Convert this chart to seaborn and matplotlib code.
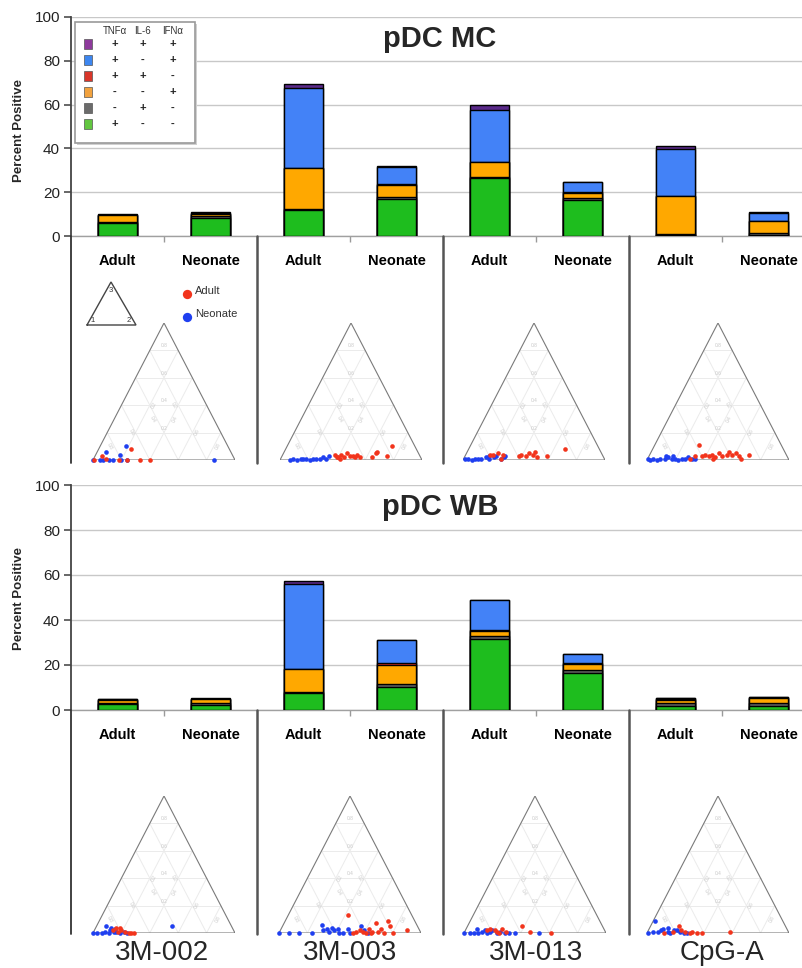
import numpy as np
import pandas as pd
import matplotlib
matplotlib.use('Agg')
import matplotlib.pyplot as plt
import seaborn as sns
from matplotlib.patches import Rectangle

# ---------------- data ----------------
groups = ['3M-002', '3M-003', '3M-013', 'CpG-A']
ages = ['Adult', 'Neonate']
layers = ['green', 'gray', 'orange', 'red', 'blue', 'purple']  # bottom -> top

# pDC MC  (percent positive, per cytokine combination)
mc_green = [6.0, 8.2, 12.0, 16.8, 26.5, 16.5, 0.5, 0.5]
mc_gray = [0.5, 1.0, 0.5, 1.0, 0.6, 0.7, 0.6, 0.7]
mc_orange = [3.0, 1.0, 18.5, 5.5, 6.5, 2.6, 17.3, 5.5]
mc_red = [0.0, 0.0, 0.0, 0.4, 0.2, 0.3, 0.0, 0.0]
mc_blue = [0.3, 0.3, 36.5, 8.0, 23.8, 4.4, 21.3, 3.9]
mc_purple = [0.4, 0.3, 2.0, 0.4, 2.0, 0.3, 1.5, 0.2]

# pDC WB
wb_green = [2.5, 2.2, 7.5, 10.1, 31.5, 16.3, 1.9, 1.8]
wb_gray = [0.8, 1.0, 0.4, 1.5, 1.2, 1.7, 1.2, 1.3]
wb_orange = [1.2, 1.5, 10.3, 8.5, 2.2, 2.4, 1.5, 2.2]
wb_red = [0.0, 0.0, 0.2, 0.6, 0.6, 0.3, 0.2, 0.0]
wb_blue = [0.3, 0.3, 37.6, 10.2, 13.4, 4.2, 0.5, 0.4]
wb_purple = [0.3, 0.3, 1.3, 0.2, 0.0, 0.0, 0.2, 0.2]

# legend: cytokine pattern per colour (TNFa, IL-6, IFNa), top row first
legend_keys = ['purple', 'blue', 'red', 'orange', 'gray', 'green']
legend_signs = [('+', '+', '+'), ('+', '-', '+'), ('+', '+', '-'),
                ('-', '-', '+'), ('-', '+', '-'), ('+', '-', '-')]
legend_header = ['TNFα', 'IL-6', 'IFNα']

# ternary points: (fraction 2, fraction 3); fraction 1 = remainder
mc_3m002_adult = [(0.05, 0.03), (0.23, 0.08), (0.24, 0.00), (0.33, 0.00), (0.40, 0.00),
                  (0.18, 0.00), (0.01, 0.00), (0.09, 0.01)]
mc_3m002_neonate = [(0.00, 0.00), (0.05, 0.00), (0.07, 0.00), (0.11, 0.00), (0.14, 0.00),
                    (0.20, 0.00), (0.24, 0.00), (0.06, 0.06), (0.17, 0.04), (0.18, 0.10),
                    (0.85, 0.00)]
mc_3m003_adult = [(0.37, 0.04), (0.39, 0.02), (0.40, 0.02), (0.42, 0.01), (0.41, 0.04),
                  (0.44, 0.02), (0.45, 0.05), (0.48, 0.03), (0.50, 0.03), (0.52, 0.02),
                  (0.52, 0.04), (0.55, 0.02), (0.64, 0.02), (0.65, 0.05), (0.65, 0.06),
                  (0.74, 0.03), (0.74, 0.10)]
mc_3m003_neonate = [(0.07, 0.00), (0.09, 0.01), (0.12, 0.00), (0.14, 0.01), (0.16, 0.01),
                    (0.18, 0.01), (0.21, 0.00), (0.23, 0.01), (0.25, 0.01), (0.28, 0.01),
                    (0.29, 0.02), (0.32, 0.01), (0.33, 0.03)]
mc_3m013_adult = [(0.17, 0.04), (0.19, 0.04), (0.22, 0.05), (0.26, 0.04), (0.26, 0.01),
                  (0.38, 0.03), (0.39, 0.04), (0.43, 0.03), (0.44, 0.05), (0.47, 0.04),
                  (0.48, 0.06), (0.51, 0.02), (0.58, 0.03), (0.68, 0.08)]
mc_3m013_neonate = [(0.01, 0.01), (0.03, 0.01), (0.06, 0.00), (0.08, 0.01), (0.10, 0.01),
                    (0.12, 0.01), (0.15, 0.02), (0.18, 0.01), (0.17, 0.03), (0.21, 0.02),
                    (0.22, 0.03), (0.26, 0.01), (0.28, 0.02), (0.28, 0.03)]
mc_cpga_adult = [(0.30, 0.01), (0.32, 0.03), (0.31, 0.11), (0.37, 0.03), (0.39, 0.04),
                 (0.42, 0.03), (0.44, 0.04), (0.46, 0.01), (0.47, 0.02), (0.48, 0.05),
                 (0.51, 0.03), (0.54, 0.04), (0.55, 0.06), (0.58, 0.04), (0.60, 0.05),
                 (0.63, 0.03), (0.66, 0.01), (0.70, 0.04)]
mc_cpga_neonate = [(0.00, 0.01), (0.02, 0.00), (0.04, 0.01), (0.07, 0.00), (0.09, 0.01),
                   (0.12, 0.01), (0.14, 0.02), (0.17, 0.01), (0.19, 0.01), (0.22, 0.00),
                   (0.24, 0.01), (0.26, 0.01), (0.28, 0.02), (0.31, 0.01), (0.33, 0.01),
                   (0.12, 0.03), (0.17, 0.03)]

wb_3m002_adult = [(0.13, 0.02), (0.14, 0.04), (0.17, 0.01), (0.17, 0.04), (0.19, 0.02),
                  (0.22, 0.01), (0.25, 0.00), (0.27, 0.00), (0.29, 0.00)]
wb_3m002_neonate = [(0.00, 0.00), (0.03, 0.00), (0.06, 0.00), (0.08, 0.01), (0.07, 0.05),
                    (0.11, 0.00), (0.11, 0.02), (0.11, 0.04), (0.14, 0.01), (0.14, 0.03),
                    (0.16, 0.01), (0.19, 0.00), (0.21, 0.01), (0.24, 0.00), (0.53, 0.05)]
wb_3m003_adult = [(0.42, 0.13), (0.52, 0.00), (0.54, 0.01), (0.56, 0.02), (0.59, 0.01),
                  (0.61, 0.00), (0.62, 0.03), (0.65, 0.00), (0.65, 0.01), (0.65, 0.07),
                  (0.69, 0.01), (0.70, 0.03), (0.74, 0.00), (0.72, 0.09), (0.76, 0.05),
                  (0.80, 0.00), (0.89, 0.02)]
wb_3m003_neonate = [(0.00, 0.00), (0.07, 0.00), (0.14, 0.00), (0.23, 0.00), (0.27, 0.06),
                    (0.30, 0.02), (0.32, 0.03), (0.35, 0.01), (0.35, 0.04), (0.38, 0.02),
                    (0.40, 0.03), (0.42, 0.00), (0.45, 0.00), (0.47, 0.03), (0.50, 0.00),
                    (0.55, 0.05), (0.59, 0.02), (0.63, 0.00)]
wb_3m013_adult = [(0.15, 0.02), (0.17, 0.03), (0.21, 0.02), (0.23, 0.01), (0.25, 0.00),
                  (0.25, 0.03), (0.29, 0.01), (0.38, 0.05), (0.46, 0.01), (0.61, 0.00)]
wb_3m013_neonate = [(0.00, 0.00), (0.04, 0.00), (0.07, 0.00), (0.10, 0.00), (0.08, 0.03),
                    (0.12, 0.01), (0.14, 0.02), (0.16, 0.00), (0.18, 0.01), (0.19, 0.02),
                    (0.23, 0.00), (0.25, 0.01), (0.29, 0.00), (0.32, 0.00), (0.36, 0.00),
                    (0.53, 0.00)]
wb_cpga_adult = [(0.12, 0.00), (0.18, 0.01), (0.20, 0.05), (0.23, 0.02), (0.26, 0.01),
                 (0.30, 0.00), (0.31, 0.01), (0.35, 0.00), (0.39, 0.00), (0.58, 0.01)]
wb_cpga_neonate = [(0.01, 0.00), (0.04, 0.01), (0.01, 0.09), (0.07, 0.01), (0.09, 0.02),
                   (0.10, 0.03), (0.14, 0.01), (0.13, 0.04), (0.16, 0.00), (0.18, 0.02),
                   (0.20, 0.02), (0.23, 0.01), (0.26, 0.00), (0.28, 0.00)]

# ---------------- style ----------------
bar_colors = {'green': '#1ebd1e', 'gray': '#5f5f5f', 'orange': '#ffa800',
              'red': '#e0301e', 'blue': '#4382f7', 'purple': '#5a2a8a'}
swatch_colors = {'green': '#62c640', 'gray': '#6b6b6b', 'orange': '#f2a23e',
                 'red': '#d9362a', 'blue': '#3d86f0', 'purple': '#8e3a9c'}
adult_color = '#f2341c'
neonate_color = '#1f3ff0'

sns.set_theme(style='white')
plt.rcParams['font.family'] = ['Liberation Sans', 'DejaVu Sans']

W, H = 803, 968
fig = plt.figure(figsize=(W / 100, H / 100), dpi=100)


def px_rect(left, top, width, height):
    return [left / W, 1 - (top + height) / H, width / W, height / H]


cats = [f'{g} {a}' for g in groups for a in ages]


def bar_panel(top, height, series):
    ax = fig.add_axes(px_rect(71, top, 744, height))
    df = pd.DataFrame(dict(zip(layers, series)), index=cats)
    cum = df.cumsum(axis=1)
    for layer in reversed(layers):
        sns.barplot(x=cats, y=cum[layer].values, order=cats, color=bar_colors[layer],
                    saturation=1, edgecolor='black', linewidth=1.0, width=0.41,
                    errorbar=None, ax=ax, zorder=3)
    ax.set_xlim(-0.5, 7.5)
    ax.set_ylim(0, 100)
    ax.set_yticks(range(0, 101, 20))
    ax.set_xticks(range(8))
    ax.set_xticklabels(ages * 4, fontweight='bold', fontsize=10.5)
    ax.set_xticks([0.5, 2.5, 4.5, 6.5], minor=True)
    ax.tick_params(axis='x', which='major', length=0, pad=13, colors='black')
    ax.tick_params(axis='x', which='minor', bottom=True, length=4, color='#9a9a9a')
    ax.tick_params(axis='y', left=True, length=5, color='#555555', labelsize=11,
                   pad=3, labelcolor='#222222')
    ax.yaxis.grid(True, color='#c8c8c8', lw=1.0)
    ax.set_axisbelow(True)
    for s in ['top', 'right']:
        ax.spines[s].set_visible(False)
    ax.spines['left'].set_color('#444444')
    ax.spines['left'].set_linewidth(1.3)
    ax.spines['bottom'].set_color('#a0a0a0')
    ax.spines['bottom'].set_linewidth(1.0)
    ax.set_xlabel('')
    ax.set_ylabel('')
    return ax


ax_mc = bar_panel(17, 219, [mc_green, mc_gray, mc_orange, mc_red, mc_blue, mc_purple])
ax_wb = bar_panel(485, 225, [wb_green, wb_gray, wb_orange, wb_red, wb_blue, wb_purple])


def tern_xy(pts):
    a = np.array(pts, dtype=float)
    return a[:, 0] + a[:, 1] / 2, a[:, 1]


def ternary(left, apex_y, base_y, adult, neonate, width=142):
    ax = fig.add_axes(px_rect(left, apex_y, width, base_y - apex_y))
    ax.set_xlim(0, 1)
    ax.set_ylim(0, 1)
    ax.axis('off')
    gc = '#ebebeb'
    lc = '#c8c8c8'
    for k in [0.2, 0.4, 0.6, 0.8]:
        ax.plot([k / 2, 1 - k / 2], [k, k], color=gc, lw=0.7, zorder=1)
        ax.plot([k, k + (1 - k) / 2], [0, 1 - k], color=gc, lw=0.7, zorder=1)
        ax.plot([1 - k, (1 - k) / 2], [0, 1 - k], color=gc, lw=0.7, zorder=1)
        ax.text(0.5, k + 0.015, f'{k:.1f}', fontsize=3.5, color=lc, ha='center', va='bottom')
        ax.text(k + (1 - k) / 4 + 0.03, (1 - k) / 2, f'{k:.1f}', fontsize=3.5, color=lc,
                ha='center', va='center', rotation=62)
        ax.text((1 - k) * 0.75 - 0.03, (1 - k) / 2, f'{k:.1f}', fontsize=3.5, color=lc,
                ha='center', va='center', rotation=-62)
    ax.plot([0, 1, 0.5, 0], [0, 0, 1, 0], color='#7a7a7a', lw=0.8, zorder=2,
            solid_joinstyle='miter')
    xa, ya = tern_xy(adult)
    xn, yn = tern_xy(neonate)
    sns.scatterplot(x=xn, y=yn, color=neonate_color, s=11, linewidth=0, ax=ax,
                    clip_on=False, zorder=4)
    sns.scatterplot(x=xa, y=ya, color=adult_color, s=11, linewidth=0, ax=ax,
                    clip_on=False, zorder=5)
    return ax


mc_sets = [(mc_3m002_adult, mc_3m002_neonate), (mc_3m003_adult, mc_3m003_neonate),
           (mc_3m013_adult, mc_3m013_neonate), (mc_cpga_adult, mc_cpga_neonate)]
wb_sets = [(wb_3m002_adult, wb_3m002_neonate), (wb_3m003_adult, wb_3m003_neonate),
           (wb_3m013_adult, wb_3m013_neonate), (wb_cpga_adult, wb_cpga_neonate)]
top_lefts = [93, 280, 463, 647]
bot_lefts = [93, 279, 464, 647]
for left, (ad, ne) in zip(top_lefts, mc_sets):
    ternary(left, 323, 460, ad, ne)
for left, (ad, ne) in zip(bot_lefts, wb_sets):
    ternary(left, 796, 933, ad, ne)

# ---------------- overlay (pixel coordinates) ----------------
ov = fig.add_axes([0, 0, 1, 1])
ov.set_xlim(0, W)
ov.set_ylim(H, 0)
ov.axis('off')

# separators below the bar panels
for y0, y1 in [(236, 463), (710, 934)]:
    ov.plot([71, 71], [y0, y1], color='#333333', lw=1.3)
    for x in [257.5, 443.5, 629.5]:
        ov.plot([x, x], [y0, y1], color='#555555', lw=1.8)

# titles and axis labels
ov.text(440, 47, 'pDC MC', fontsize=21, fontweight='bold', ha='center', va='baseline')
ov.text(440, 515, 'pDC WB', fontsize=21, fontweight='bold', ha='center', va='baseline')
ov.text(19, 131, 'Percent Positive', fontsize=9.5, fontweight='bold', rotation=90,
        ha='center', va='center')
ov.text(19, 599, 'Percent Positive', fontsize=9.5, fontweight='bold', rotation=90,
        ha='center', va='center')
for x, g in zip([162, 350, 536, 722], groups):
    ov.text(x, 953, g, fontsize=20, ha='center', va='center')

# colour legend box
ov.add_patch(Rectangle((77, 24), 120, 121, fc='#d0d0d0', ec='none', zorder=5))
ov.add_patch(Rectangle((75, 22), 120, 121, fc='white', ec='#9a9a9a', lw=1.2, zorder=6))
for x, t in zip([115, 143, 173], legend_header):
    ov.text(x, 31, t, fontsize=7, ha='center', va='center', color='#333333', zorder=7)
for i, (key, signs) in enumerate(zip(legend_keys, legend_signs)):
    y = 44 + i * 16
    ov.add_patch(Rectangle((84, y - 5), 8, 10, fc=swatch_colors[key], ec='#555555',
                           lw=0.5, zorder=7))
    for x, s in zip([115, 143, 173], signs):
        ov.text(x, y, s, fontsize=8, ha='center', va='center', color='#222222',
                fontweight='bold', zorder=7)

# mini triangle key
ov.plot([87, 136, 111, 87], [325, 325, 282, 325], color='#444444', lw=1.0,
        solid_joinstyle='miter')
ov.text(111, 291, '3', fontsize=5.5, ha='center', va='center', color='#333333')
ov.text(93, 320, '1', fontsize=5.5, ha='center', va='center', color='#333333')
ov.text(129, 320, '2', fontsize=5.5, ha='center', va='center', color='#333333')

# dot legend
ov.scatter([187], [294], s=45, color=adult_color, linewidths=0)
ov.scatter([187], [317], s=45, color=neonate_color, linewidths=0)
ov.text(195, 291, 'Adult', fontsize=8, ha='left', va='center', color='#333333')
ov.text(195, 314, 'Neonate', fontsize=8, ha='left', va='center', color='#333333')

fig.savefig('out.png', dpi=100)
